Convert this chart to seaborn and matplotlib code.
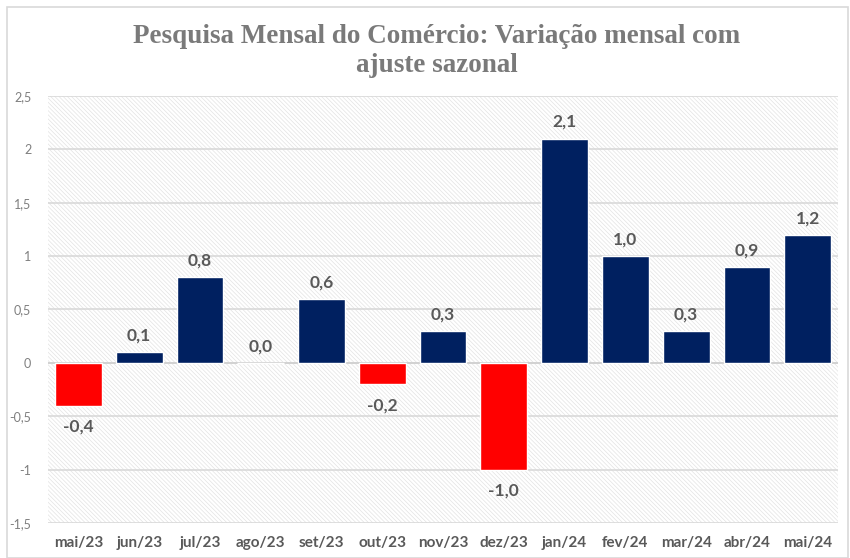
import numpy as np
import seaborn as sns
import matplotlib.pyplot as plt
import matplotlib.ticker as mticker
from matplotlib.patches import Rectangle

# Data
months = ['mai/23', 'jun/23', 'jul/23', 'ago/23', 'set/23', 'out/23', 'nov/23',
          'dez/23', 'jan/24', 'fev/24', 'mar/24', 'abr/24', 'mai/24']
values = [-0.4, 0.1, 0.8, 0.0, 0.6, -0.2, 0.3, -1.0, 2.1, 1.0, 0.3, 0.9, 1.2]
signs = ['neg' if v < 0 else 'pos' for v in values]

sns.set_style('white')
plt.rcParams['font.family'] = ['Lato', 'DejaVu Sans']
plt.rcParams['hatch.linewidth'] = 0.5

fig = plt.figure(figsize=(8.5, 5.58), dpi=100)
ax = fig.add_axes([0.0565, 0.0627, 0.9295, 0.7653])

# hatched plot-area background
ax.add_patch(Rectangle((0, 0), 1, 1, transform=ax.transAxes, facecolor='white',
                       edgecolor='#e3e3e3', linewidth=0, hatch='\\' * 8, zorder=0))

sns.barplot(x=months, y=values, hue=signs, palette={'pos': '#002060', 'neg': '#ff0000'},
            width=0.77, legend=False, ax=ax, zorder=3, saturation=1)

ax.set_ylim(-1.5, 2.5)
ax.set_xlim(-0.5, len(months) - 0.5)
ax.yaxis.set_major_locator(mticker.MultipleLocator(0.5))
ax.yaxis.set_major_formatter(mticker.FuncFormatter(lambda v, p: f'{v:g}'.replace('.', ',')))
ax.grid(axis='y', color='#d9d9d9', linewidth=1.2, zorder=1)
ax.set_axisbelow(True)
for s in ax.spines.values():
    s.set_visible(False)
ax.axhline(0, color='#d0d0d0', linewidth=1.2, zorder=2)

ax.tick_params(axis='y', length=0, labelsize=9, labelcolor='#7f7f7f', pad=12)
ax.tick_params(axis='x', length=0, labelsize=11, labelcolor='#595959', pad=9)
for t in ax.get_xticklabels():
    t.set_fontweight('bold')

# value labels
for i, v in enumerate(values):
    off = 12 if v >= 0 else -15
    ax.annotate(f'{v:.1f}'.replace('.', ','), (i, v), xytext=(0, off),
                textcoords='offset points', ha='center', va='center',
                fontsize=12.5, fontweight='bold', color='#595959', zorder=4)

fig.text(0.514, 0.909, 'Pesquisa Mensal do Comércio: Variação mensal com\najuste sazonal',
         ha='center', va='center', fontsize=19.5, fontweight='bold', color='#7a7a7a',
         family=['Liberation Serif', 'DejaVu Serif'], linespacing=1.2)

fig.patches.append(Rectangle((0.008, 0.0), 0.99, 0.987, transform=fig.transFigure,
                             fill=False, edgecolor='#d9d9d9', linewidth=1.2))

plt.savefig('out.png', dpi=100)
